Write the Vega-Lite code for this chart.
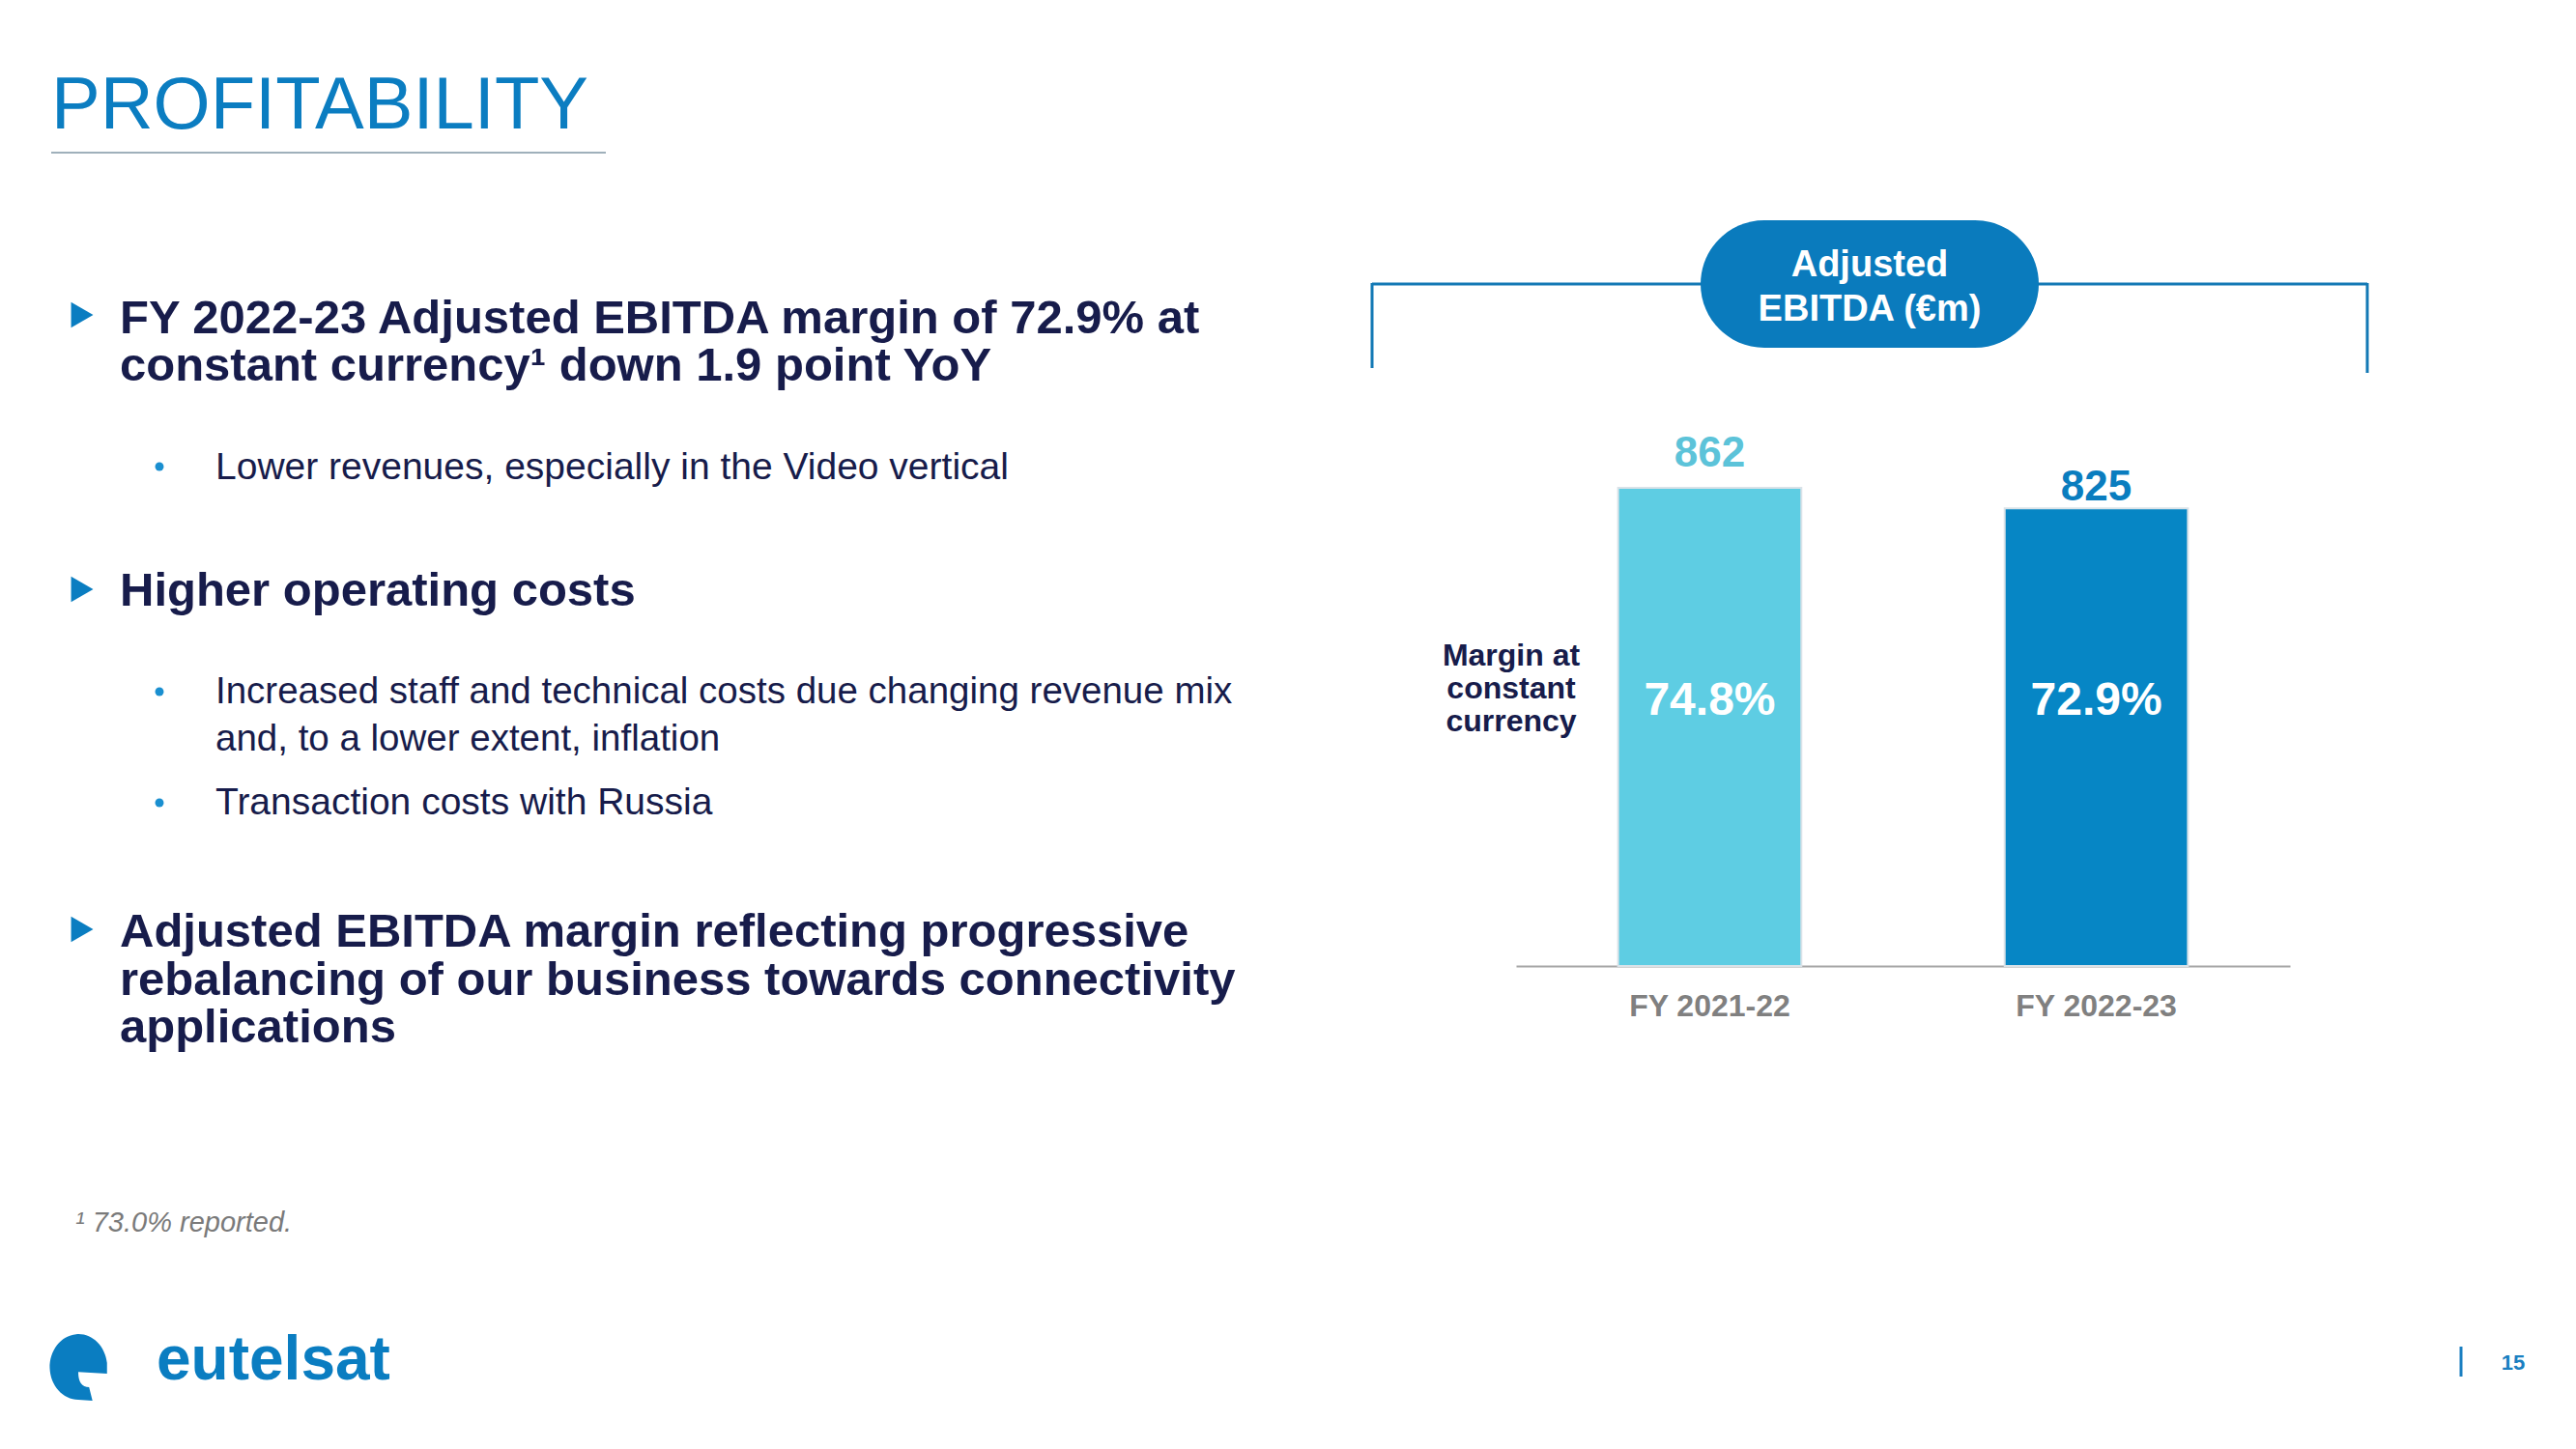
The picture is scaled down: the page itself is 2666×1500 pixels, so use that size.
{
  "$schema": "https://vega.github.io/schema/vega-lite/v6.json",
  "width": 2666,
  "height": 1500,
  "autosize": {"type": "none"},
  "padding": 0,
  "background": "white",
  "config": {"view": {"stroke": null}},
  "data": {"values": [
    {"year": "FY 2021-22", "ebitda": 862, "margin": "74.8%"},
    {"year": "FY 2022-23", "ebitda": 825, "margin": "72.9%"}
  ]},
  "layer": [
    {
      "mark": {"type": "bar", "stroke": "#d9e2e8", "strokeWidth": 2},
      "encoding": {
        "x": {"field": "year", "type": "nominal", "sort": null,
          "scale": {"range": [1569, 2370], "paddingInner": 0.526, "paddingOuter": 0.264},
          "axis": {"title": null, "offset": -500, "ticks": false, "tickSize": 0, "labelAngle": 0,
            "labelPadding": 26, "labelFont": "Liberation Sans", "labelFontSize": 32, "labelFontWeight": "bold",
            "labelColor": "#808080", "domainColor": "#a6a6a6", "domainWidth": 2, "grid": false}},
        "y": {"field": "ebitda", "type": "quantitative",
          "scale": {"domain": [0, 1741], "range": [1000, 0], "nice": false}, "axis": null},
        "color": {"field": "year", "type": "nominal", "scale": {"range": ["#5ecde3", "#0686c5"]}, "legend": null}
      }
    },
    {
      "transform": [{"filter": "datum.year == 'FY 2021-22'"}],
      "mark": {"type": "text", "dy": -22, "baseline": "alphabetic", "font": "Liberation Sans", "fontWeight": "bold", "fontSize": 44, "color": "#5cc3d9"},
      "encoding": {
        "x": {"field": "year", "type": "nominal", "sort": null},
        "y": {"field": "ebitda", "type": "quantitative"},
        "text": {"field": "ebitda", "type": "quantitative"}
      }
    },
    {
      "transform": [{"filter": "datum.year == 'FY 2022-23'"}],
      "mark": {"type": "text", "dy": -8, "baseline": "alphabetic", "font": "Liberation Sans", "fontWeight": "bold", "fontSize": 44, "color": "#0a7dbf"},
      "encoding": {
        "x": {"field": "year", "type": "nominal", "sort": null},
        "y": {"field": "ebitda", "type": "quantitative"},
        "text": {"field": "ebitda", "type": "quantitative"}
      }
    },
    {
      "mark": {"type": "text", "baseline": "alphabetic", "font": "Liberation Sans", "fontWeight": "bold", "fontSize": 48, "color": "white"},
      "encoding": {
        "x": {"field": "year", "type": "nominal", "sort": null},
        "y": {"datum": 452},
        "text": {"field": "margin", "type": "nominal"}
      }
    },
    {
      "data": {"values": [{}]},
      "mark": {"type": "text", "text": "PROFITABILITY", "x": 53, "y": 133, "align": "left", "baseline": "alphabetic", "font": "Liberation Sans", "fontSize": 76, "color": "#0b7dc1"},
      "encoding": {}
    },
    {
      "data": {"values": [{}]},
      "mark": {"type": "rule", "color": "#9fb0bb", "strokeWidth": 2},
      "encoding": {"x": {"value": 53}, "x2": {"value": 627}, "y": {"value": 158}}
    },
    {
      "data": {"values": [{}]},
      "mark": {"type": "point", "shape": "triangle-right", "filled": true, "opacity": 1, "x": 85, "y": 326, "size": 700, "color": "#0a7dc1"},
      "encoding": {}
    },
    {
      "data": {"values": [{}]},
      "mark": {"type": "point", "shape": "triangle-right", "filled": true, "opacity": 1, "x": 85, "y": 610, "size": 700, "color": "#0a7dc1"},
      "encoding": {}
    },
    {
      "data": {"values": [{}]},
      "mark": {"type": "point", "shape": "triangle-right", "filled": true, "opacity": 1, "x": 85, "y": 962, "size": 700, "color": "#0a7dc1"},
      "encoding": {}
    },
    {
      "data": {"values": [{}]},
      "mark": {"type": "text", "text": ["FY 2022-23 Adjusted EBITDA margin of 72.9% at", "constant currency¹ down 1.9 point YoY"], "lineHeight": 49, "x": 124, "y": 345, "align": "left", "baseline": "alphabetic", "font": "Liberation Sans", "fontWeight": "bold", "fontSize": 49, "color": "#171c4b"},
      "encoding": {}
    },
    {
      "data": {"values": [{}]},
      "mark": {"type": "text", "text": "Higher operating costs", "x": 124, "y": 627, "align": "left", "baseline": "alphabetic", "font": "Liberation Sans", "fontWeight": "bold", "fontSize": 49, "color": "#171c4b"},
      "encoding": {}
    },
    {
      "data": {"values": [{}]},
      "mark": {"type": "text", "text": ["Adjusted EBITDA margin reflecting progressive", "rebalancing of our business towards connectivity", "applications"], "lineHeight": 49.5, "x": 124, "y": 980, "align": "left", "baseline": "alphabetic", "font": "Liberation Sans", "fontWeight": "bold", "fontSize": 49, "color": "#171c4b"},
      "encoding": {}
    },
    {
      "data": {"values": [{}]},
      "mark": {"type": "point", "shape": "circle", "filled": true, "opacity": 1, "x": 165, "y": 483, "size": 80, "color": "#1a8fd0"},
      "encoding": {}
    },
    {
      "data": {"values": [{}]},
      "mark": {"type": "point", "shape": "circle", "filled": true, "opacity": 1, "x": 165, "y": 716, "size": 80, "color": "#1a8fd0"},
      "encoding": {}
    },
    {
      "data": {"values": [{}]},
      "mark": {"type": "point", "shape": "circle", "filled": true, "opacity": 1, "x": 165, "y": 831, "size": 80, "color": "#1a8fd0"},
      "encoding": {}
    },
    {
      "data": {"values": [{}]},
      "mark": {"type": "text", "text": "Lower revenues, especially in the Video vertical", "x": 223, "y": 496, "align": "left", "baseline": "alphabetic", "font": "Liberation Sans", "fontSize": 39, "color": "#171c4b"},
      "encoding": {}
    },
    {
      "data": {"values": [{}]},
      "mark": {"type": "text", "text": ["Increased staff and technical costs due changing revenue mix", "and, to a lower extent, inflation"], "lineHeight": 49, "x": 223, "y": 728, "align": "left", "baseline": "alphabetic", "font": "Liberation Sans", "fontSize": 38.5, "color": "#171c4b"},
      "encoding": {}
    },
    {
      "data": {"values": [{}]},
      "mark": {"type": "text", "text": "Transaction costs with Russia", "x": 223, "y": 843, "align": "left", "baseline": "alphabetic", "font": "Liberation Sans", "fontSize": 39, "color": "#171c4b"},
      "encoding": {}
    },
    {
      "data": {"values": [{}]},
      "mark": {"type": "text", "text": "¹ 73.0% reported.", "x": 78, "y": 1275, "align": "left", "baseline": "alphabetic", "font": "Liberation Sans", "fontStyle": "italic", "fontSize": 29, "color": "#7a7a7a"},
      "encoding": {}
    },
    {
      "data": {"values": [{}]},
      "mark": {"type": "point", "shape": "M0.85,0.2 L0.85,-0.12 A0.85,0.97,0,1,0,0,0.97 L0.42,1 L0.32,0.6 Q0,0.6,0,0.15 Z", "filled": true, "opacity": 1, "strokeWidth": 0, "x": 81, "y": 1415, "size": 4900, "color": "#0a7dc1"},
      "encoding": {}
    },
    {
      "data": {"values": [{}]},
      "mark": {"type": "text", "text": "eutelsat", "x": 162, "y": 1428, "align": "left", "baseline": "alphabetic", "font": "Liberation Sans", "fontWeight": "bold", "fontSize": 64, "color": "#0a7dc1"},
      "encoding": {}
    },
    {
      "data": {"values": [{}]},
      "mark": {"type": "rule", "color": "#1a7fc1", "strokeWidth": 3},
      "encoding": {"x": {"value": 2547}, "y": {"value": 1394}, "y2": {"value": 1425}}
    },
    {
      "data": {"values": [{}]},
      "mark": {"type": "text", "text": "15", "x": 2601, "y": 1418, "align": "center", "baseline": "alphabetic", "font": "Liberation Sans", "fontWeight": "bold", "fontSize": 22, "color": "#1a7fc1"},
      "encoding": {}
    },
    {
      "data": {"values": [{}]},
      "mark": {"type": "rule", "color": "#1379b5", "strokeWidth": 3},
      "encoding": {"x": {"value": 1420}, "x2": {"value": 2450}, "y": {"value": 294}}
    },
    {
      "data": {"values": [{}]},
      "mark": {"type": "rule", "color": "#1379b5", "strokeWidth": 3},
      "encoding": {"x": {"value": 1420}, "y": {"value": 293}, "y2": {"value": 381}}
    },
    {
      "data": {"values": [{}]},
      "mark": {"type": "rule", "color": "#1379b5", "strokeWidth": 3},
      "encoding": {"x": {"value": 2450}, "y": {"value": 293}, "y2": {"value": 386}}
    },
    {
      "data": {"values": [{}]},
      "mark": {"type": "rect", "x": 1760, "x2": 2110, "y": 228, "y2": 360, "cornerRadius": 66, "color": "#0a7bbd"},
      "encoding": {}
    },
    {
      "data": {"values": [{}]},
      "mark": {"type": "text", "text": ["Adjusted", "EBITDA (€m)"], "lineHeight": 46, "x": 1935, "y": 286, "align": "center", "baseline": "alphabetic", "font": "Liberation Sans", "fontWeight": "bold", "fontSize": 38, "color": "white"},
      "encoding": {}
    },
    {
      "data": {"values": [{}]},
      "mark": {"type": "text", "text": ["Margin at", "constant", "currency"], "lineHeight": 34, "x": 1564, "y": 689, "align": "center", "baseline": "alphabetic", "font": "Liberation Sans", "fontWeight": "bold", "fontSize": 32, "color": "#171c4b"},
      "encoding": {}
    }
  ]
}
